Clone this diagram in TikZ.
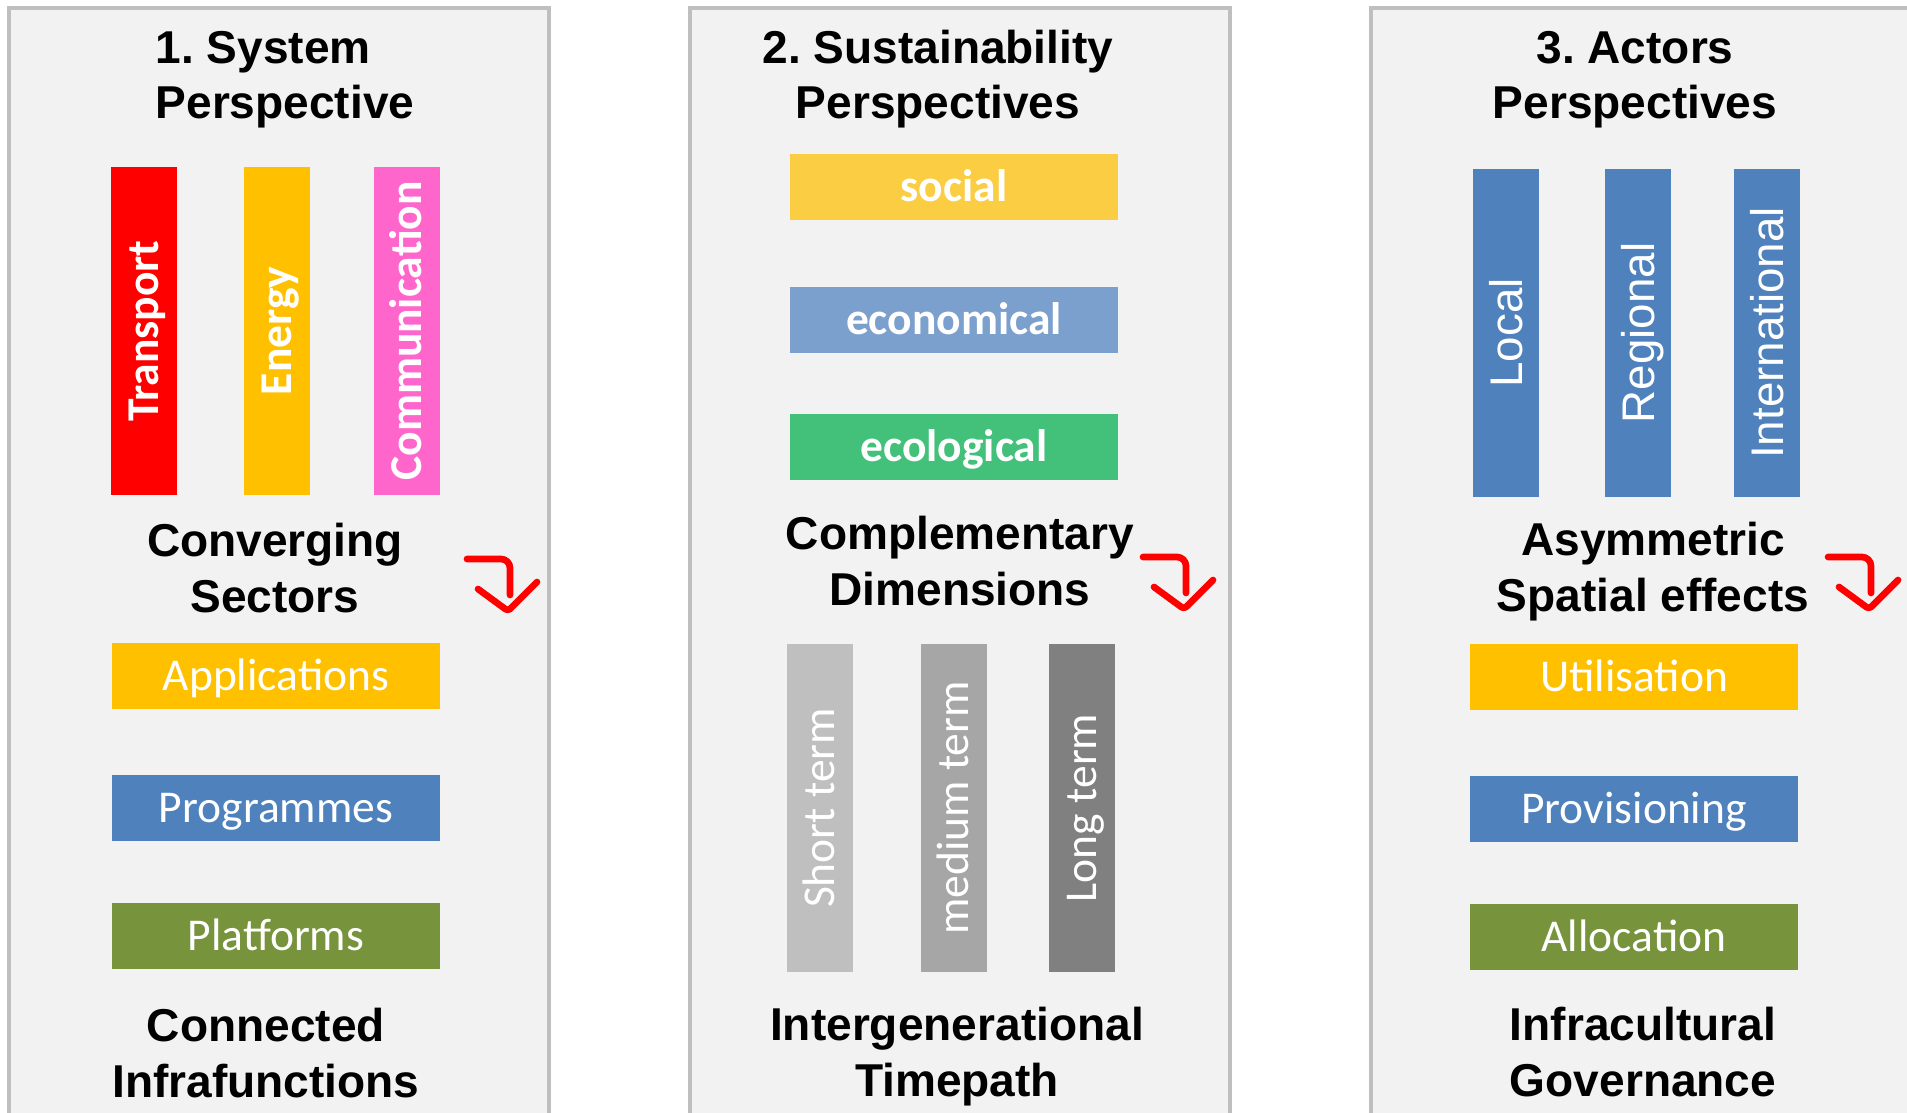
\documentclass[tikz,border=0pt]{standalone}
\usepackage{fontspec}
\setmainfont{Liberation Sans}
\newfontfamily\carlito{Carlito}
\usepackage{tikz}
\usetikzlibrary{calc}
\usepackage{xcolor}

\definecolor{panelfill}{HTML}{F2F2F2}
\definecolor{panelline}{HTML}{BFBFBF}
\definecolor{amber}{HTML}{FFC000}
\definecolor{pinkbar}{HTML}{FF66CC}
\definecolor{steelblue}{HTML}{4F81BD}
\definecolor{olive}{HTML}{77933C}
\definecolor{socialgold}{HTML}{FBCD43}
\definecolor{econblue}{HTML}{7CA0CD}
\definecolor{ecogreen}{HTML}{43C17B}
\definecolor{shortgray}{HTML}{BFBFBF}
\definecolor{mediumgray}{HTML}{A6A6A6}
\definecolor{longgray}{HTML}{808080}

\begin{document}
\frenchspacing
\begin{tikzpicture}[x=0.01cm,y=-0.01cm,
		panel/.style={fill=panelfill,draw=panelline,line width=1.4pt},
		heading/.style={font=\fontsize{13.1}{15.7}\selectfont\bfseries,align=center,anchor=base,inner sep=0pt},
		strip/.style={rotate=90,minimum width=3.27cm,minimum height=0.66cm,inner sep=0pt,text=white,text depth=0pt},
		boldstrip/.style={strip,text height=8.3pt,font=\carlito\bfseries\fontsize{12.95}{15}\selectfont},
		thinstrip/.style={strip,text height=8.3pt,font=\carlito\fontsize{12.95}{15}\selectfont},
		arialstrip/.style={strip,text height=9.3pt,font=\fontsize{13}{15}\selectfont},
		slab/.style={minimum width=3.28cm,minimum height=0.65cm,inner sep=0pt,text=white,text depth=0pt,text height=8.3pt,font=\carlito\fontsize{12.95}{15}\selectfont},
		boldslab/.style={slab,font=\carlito\bfseries\fontsize{12.95}{15}\selectfont},
		turnmark/.style={draw=red,line width=1.9pt,line cap=round,line join=round,rounded corners=0.09cm}]
	\useasboundingbox (0,0) rectangle (1907,1113);
	\fill[white] (0,0) rectangle (1907,1113);
	\clip (0,0) rectangle (1907,1113);

	\foreach \px in {9,690,1371}{% three panels, open at the bottom
		\draw[panel] (\px,8) rectangle ++(540,1150);
	}

	% 1. System perspective (headings sit on the baseline of their last line)
	\node[heading,align=left,anchor=base west] (systitle) at (155,119) {1. System\\Perspective};
	\node[boldstrip,fill=red]     (transport) at (144,331) {Transport};
	\node[boldstrip,fill=amber]   (energy)    at (277,331) {Energy};
	\node[boldstrip,fill=pinkbar] (communic)  at (407,331) {Communication};
	\node[heading] (converging) at (275,612) {Converging\\Sectors};
	\node[slab,fill=amber]     (applic)  at (276,676) {Applications};
	\node[slab,fill=steelblue] (program) at (276,808) {Programmes};
	\node[slab,fill=olive]     (platform) at (276,936) {Platforms};
	\node[heading] (connected) at (266,1097) {Connected\\Infrafunctions};

	% 2. Sustainability perspectives
	\node[heading] (sustitle) at (938,119) {2. Sustainability\\Perspectives};
	\node[boldslab,fill=socialgold] (social)     at (954,187) {social};
	\node[boldslab,fill=econblue]   (economical) at (954,320) {economical};
	\node[boldslab,fill=ecogreen]   (ecological) at (954,447) {ecological};
	\node[heading] (complementary) at (960,605) {Complementary\\Dimensions};
	\node[thinstrip,fill=shortgray]  (shortterm)  at (820,808) {Short term};
	\node[thinstrip,fill=mediumgray] (mediumterm) at (954,808) {medium term};
	\node[thinstrip,fill=longgray]   (longterm)   at (1082,808) {Long term};
	\node[heading] (intergen) at (957,1096) {Intergenerational\\Timepath};

	% 3. Actors perspectives
	\node[heading] (acttitle) at (1635,119) {3. Actors\\Perspectives};
	\node[arialstrip,fill=steelblue] (local)    at (1506,333) {Local};
	\node[arialstrip,fill=steelblue] (regional) at (1638,333) {Regional};
	\node[arialstrip,fill=steelblue] (intl)     at (1767,333) {International};
	\node[heading] (asymmetric) at (1653,611) {Asymmetric\\Spatial effects};
	\node[slab,fill=amber]     (utilisation)  at (1634,677) {Utilisation};
	\node[slab,fill=steelblue] (provisioning) at (1634,809) {Provisioning};
	\node[slab,fill=olive]     (allocation)   at (1634,937) {Allocation};
	\node[heading] (infracult) at (1643,1096) {Infracultural\\Governance};

	% red turn marks
	\foreach \hx/\hy in {467/559,1143/557,1828/557}{%
		\draw[turnmark] (\hx,\hy) -- ++(43,0) -- ++(0,36);
		\draw[turnmark,rounded corners=0.03cm] (\hx+11,\hy+30) -- (\hx+41,\hy+52) -- (\hx+70,\hy+23);
	}
\end{tikzpicture}
\end{document}
